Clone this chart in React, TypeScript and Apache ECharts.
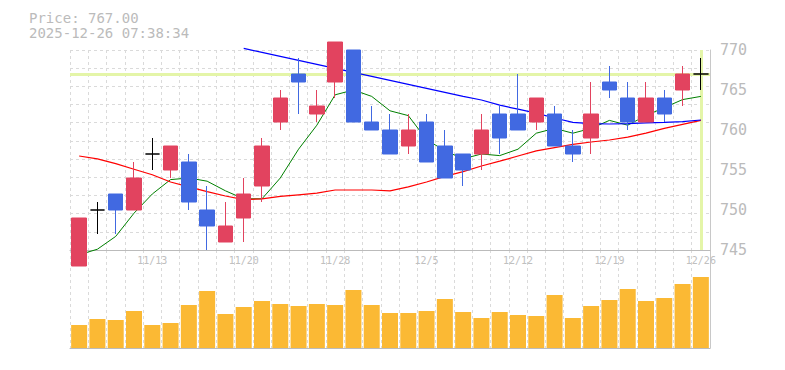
import React, { useEffect, useRef } from "react";
import * as echarts from "echarts";

const dates = [
  "11/7", "11/10", "11/11", "11/12", "11/13", "11/14", "11/17", "11/18", "11/19", "11/20",
  "11/21", "11/25", "11/26", "11/27", "11/28", "12/1", "12/2", "12/3", "12/4", "12/5",
  "12/8", "12/9", "12/10", "12/11", "12/12", "12/15", "12/16", "12/17", "12/18", "12/19",
  "12/22", "12/23", "12/24", "12/25", "12/26",
];

const opens = [743, 750, 752, 750, 757, 755, 756, 750, 746, 749, 753, 761, 767, 762, 766, 770, 761, 760, 758, 761, 758, 757, 757, 762, 762, 761, 762, 758, 759, 766, 764, 761, 764, 765, 767];
const closes = [749, 750, 750, 754, 757, 758, 751, 748, 748, 752, 758, 764, 766, 763, 771, 761, 760, 757, 760, 756, 754, 755, 760, 759, 760, 764, 758, 757, 762, 765, 761, 764, 762, 767, 767];
const lows = [743, 747, 747, 750, 755, 754, 750, 745, 746, 746, 751, 760, 762, 761, 764, 761, 760, 757, 757, 756, 754, 753, 755, 757, 760, 760, 758, 756, 757, 764, 760, 761, 761, 763, 765];
const highs = [749, 751, 752, 756, 759, 758, 757, 753, 751, 754, 759, 765, 769, 765, 771, 770, 763, 762, 762, 762, 760, 757, 762, 763, 767, 764, 763, 760, 766, 768, 766, 766, 765, 768, 769];

const maShort = [744.4, 745.1, 746.7, 749.6, 752.0, 753.8, 754.0, 753.6, 752.4, 751.4, 751.4, 754.0, 757.6, 760.6, 764.4, 765.0, 764.2, 762.4, 761.8, 758.8, 757.4, 756.4, 757.0, 756.8, 757.6, 759.6, 760.2, 759.6, 760.2, 761.2, 760.6, 761.8, 762.8, 763.8, 764.2];
const maMid = [756.75, 756.4, 755.8, 755.1, 754.4, 753.5, 752.9, 752.3, 751.75, 751.3, 751.4, 751.7, 751.9, 752.1, 752.5, 752.5, 752.5, 752.4, 752.9, 753.5, 754.2, 754.8, 755.5, 756.1, 756.75, 757.4, 757.8, 758.2, 758.5, 758.75, 759.1, 759.6, 760.2, 760.7, 761.2];
const maLong = [null, null, null, null, null, null, null, null, null, 770.2, 769.7, 769.2, 768.7, 768.2, 767.7, 767.2, 766.7, 766.2, 765.7, 765.2, 764.7, 764.2, 763.75, 763.1, 762.6, 762.1, 761.5, 760.95, 760.8, 760.75, 760.8, 760.9, 760.95, 761.05, 761.25];

const volumes = [23, 29, 28, 37, 23, 25, 43, 57, 34, 41, 47, 44, 42, 44, 43, 58, 43, 35, 35, 37, 49, 36, 30, 36, 33, 32, 53, 30, 42, 48, 59, 47, 50, 64, 71];

const currentPrice = 767;
const priceText = "Price: 767.00";
const timeText = "2025-12-26 07:38:34";

const MONO = '"DejaVu Sans Mono", monospace';

export default function App() {
  const ref = useRef<HTMLDivElement>(null);

  useEffect(() => {
    const chart = echarts.init(ref.current!, null, { renderer: "svg" });
    const candleData = dates.map((_, i) => {
      const v = [opens[i], closes[i], lows[i], highs[i]];
      if (opens[i] === closes[i]) {
        return {
          value: v,
          itemStyle: { color: "#000", color0: "#000", borderColor: "#000", borderColor0: "#000" },
        };
      }
      return { value: v };
    });
    const dashed = { color: "#dadada", type: [3, 3] as any, width: 1 };
    chart.setOption({
      animation: false,
      graphic: [
        {
          type: "text",
          left: 29,
          top: 11,
          style: { text: priceText, fill: "#bbbbbb", font: "14px " + MONO },
        },
        {
          type: "text",
          left: 29,
          top: 26,
          style: { text: timeText, fill: "#bbbbbb", font: "14px " + MONO },
        },
      ],
      grid: [
        { left: 70, right: 75, top: 50, height: 200 },
        { left: 70, right: 75, top: 250, height: 98 },
      ],
      xAxis: [
        {
          type: "category",
          gridIndex: 0,
          data: dates,
          boundaryGap: true,
          axisLine: { show: true, lineStyle: { color: "#bbbbbb", width: 1 } },
          axisTick: { show: false },
          axisLabel: {
            interval: (i: number) => (i - 4) % 5 === 0,
            color: "#c0c0c0",
            fontFamily: MONO,
            fontSize: 10,
            margin: 5,
          },
          splitLine: { show: true, interval: 0, lineStyle: dashed },
        },
        {
          type: "category",
          gridIndex: 1,
          data: dates,
          boundaryGap: true,
          offset: 2,
          axisLine: { show: true, lineStyle: { color: "#bbbbbb", width: 1 } },
          axisTick: { show: false },
          axisLabel: { show: false },
          splitLine: { show: true, interval: 0, lineStyle: dashed },
        },
      ],
      yAxis: [
        {
          type: "value",
          gridIndex: 0,
          position: "right",
          min: 745,
          max: 770,
          interval: 5,
          axisLine: { show: true, lineStyle: { color: "#c8c8c8" } },
          axisTick: { show: false },
          axisLabel: { color: "#bbbbbb", fontFamily: MONO, fontSize: 15, margin: 10, padding: [6, 0, 0, 0] },
          splitLine: { show: false },
        },
        {
          type: "value",
          gridIndex: 0,
          position: "left",
          min: 0,
          max: 11,
          interval: 1,
          axisLine: { show: false },
          axisTick: { show: false },
          axisLabel: { show: false },
          splitLine: { show: true, lineStyle: dashed },
        },
        {
          type: "value",
          gridIndex: 1,
          position: "right",
          min: 0,
          max: 98,
          axisLine: { show: true, lineStyle: { color: "#c8c8c8" } },
          axisTick: { show: false },
          axisLabel: { show: false },
          splitLine: { show: false },
        },
      ],
      series: [
        {
          type: "line",
          xAxisIndex: 0,
          yAxisIndex: 0,
          data: [],
          z: 1,
          markLine: {
            silent: true,
            symbol: "none",
            z: 1,
            label: { show: false },
            lineStyle: { color: "#e4f5a8", width: 3, type: "solid" },
            data: [{ yAxis: currentPrice }, { xAxis: dates[dates.length - 1] }],
          },
        },
        {
          type: "line",
          xAxisIndex: 0,
          yAxisIndex: 0,
          data: maShort,
          showSymbol: false,
          clip: false,
          z: 2,
          lineStyle: { color: "#008000", width: 1 },
        },
        {
          type: "line",
          xAxisIndex: 0,
          yAxisIndex: 0,
          data: maMid,
          showSymbol: false,
          clip: false,
          z: 2,
          lineStyle: { color: "#ff0000", width: 1.2 },
        },
        {
          type: "line",
          xAxisIndex: 0,
          yAxisIndex: 0,
          data: maLong,
          showSymbol: false,
          clip: false,
          z: 2,
          lineStyle: { color: "#0000ff", width: 1.2 },
        },
        {
          type: "candlestick",
          xAxisIndex: 0,
          yAxisIndex: 0,
          data: candleData,
          barWidth: 15,
          clip: false,
          z: 3,
          itemStyle: {
            color: "#e2435f",
            color0: "#4169e1",
            borderColor: "#e2435f",
            borderColor0: "#4169e1",
            borderWidth: 1,
          },
        },
        {
          type: "bar",
          xAxisIndex: 1,
          yAxisIndex: 2,
          data: volumes,
          barWidth: 16,
          itemStyle: { color: "#fbb934" },
        },
      ],
    });
    return () => chart.dispose();
  }, []);

  return (
    <div
      ref={ref}
      style={{ position: "absolute", left: 0, top: 0, width: 785, height: 370, background: "#fff" }}
    />
  );
}
